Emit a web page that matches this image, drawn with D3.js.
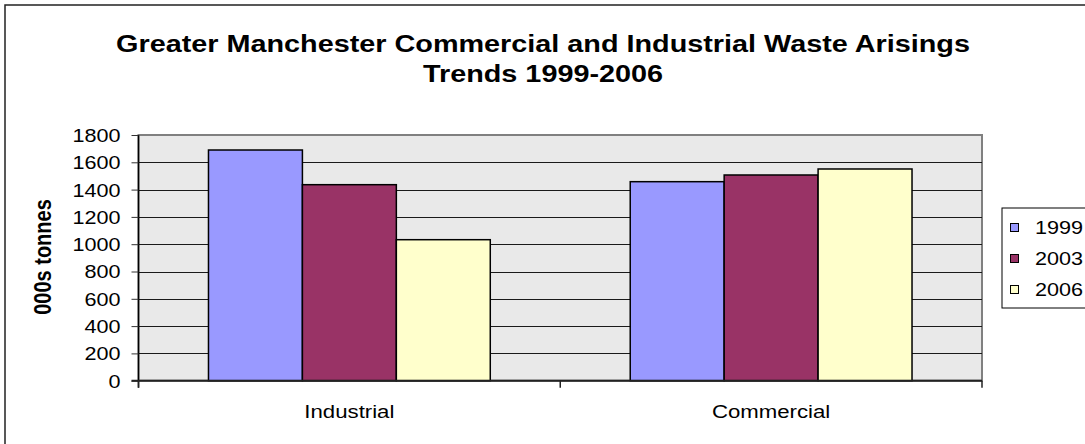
<!DOCTYPE html>
<html>
<head>
<meta charset="utf-8">
<script src="https://cdn.jsdelivr.net/npm/d3@7"></script>
<style>
  html, body { margin: 0; padding: 0; background: #fff; }
  svg { display: block; font-family: Arial, "Liberation Sans", sans-serif; }
</style>
</head>
<body>
<svg id="chart" width="1085" height="444"></svg>
<script>
const categories = ["Industrial", "Commercial"];
const seriesNames = ["1999", "2003", "2006"];
const values1999 = [1690, 1458];
const values2003 = [1436, 1507];
const values2006 = [1033, 1551];
const yTicks = [0, 200, 400, 600, 800, 1000, 1200, 1400, 1600, 1800];
const colors = ["#9999FF", "#993366", "#FFFFCC"];
const titleLines = ["Greater Manchester Commercial and Industrial Waste Arisings", "Trends 1999-2006"];
const yTitle = "000s tonnes";

const seriesValues = [values1999, values2003, values2006];
const data = categories.map((c, i) => ({
  cat: c,
  vals: seriesNames.map((s, j) => ({ key: s, value: seriesValues[j][i], color: colors[j] }))
}));

const SX = 1.2; // horizontal stretch of text as in reference
const svg = d3.select("#chart");

// outer chart border (clipped at right/bottom)
svg.append("rect").attr("x", 5).attr("y", 5).attr("width", 1200).attr("height", 600)
  .attr("fill", "#fff").attr("stroke", "#222").attr("stroke-width", 1.5);

const L = 138.5, R = 982, T = 135, B = 380.7;

const x0 = d3.scaleBand().domain(categories).range([L, R]).paddingInner(0).paddingOuter(0);
const x1 = d3.scaleBand().domain(seriesNames).range([0, x0.bandwidth()]).paddingInner(0).paddingOuter(0.745);
const y = d3.scaleLinear().domain([0, 1800]).range([B, T]);

// plot area
svg.append("rect").attr("x", L).attr("y", T).attr("width", R - L).attr("height", B - T)
  .attr("fill", "#E9E9E9").attr("stroke", "#808080").attr("stroke-width", 2);

// gridlines
svg.append("g").selectAll("line").data(yTicks.filter(d => d > 0 && d < 1800)).join("line")
  .attr("x1", L).attr("x2", R).attr("y1", d => Math.round(y(d)) + 0.5).attr("y2", d => Math.round(y(d)) + 0.5)
  .attr("stroke", "#1a1a1a").attr("stroke-width", 1);

// bars
const g = svg.append("g");
g.selectAll("g").data(data).join("g")
  .attr("transform", d => `translate(${x0(d.cat)},0)`)
  .selectAll("rect").data(d => d.vals).join("rect")
  .attr("x", d => x1(d.key))
  .attr("width", x1.bandwidth())
  .attr("y", d => y(d.value))
  .attr("height", d => y(0) - y(d.value))
  .attr("fill", d => d.color)
  .attr("stroke", "#000").attr("stroke-width", 1.5);

// y axis
const yAxis = svg.append("g").attr("transform", `translate(${L},0)`)
  .call(d3.axisLeft(y).tickValues(yTicks).tickFormat(d3.format("d")).tickSize(7).tickSizeOuter(0).tickPadding(0));
yAxis.select(".domain").attr("stroke", "#000").attr("stroke-width", 1.5).attr("d", `M0,${T}V${B + 7}`);
yAxis.selectAll(".tick line").attr("stroke", "#333");
yAxis.selectAll(".tick text")
  .attr("x", -18 / SX).attr("dy", "0.36em")
  .attr("transform", `scale(${SX},1)`)
  .attr("font-size", 18).attr("fill", "#000")
  .attr("font-family", "Arial, 'Liberation Sans', sans-serif");

// x axis
svg.append("line").attr("x1", L - 7).attr("x2", R).attr("y1", B).attr("y2", B)
  .attr("stroke", "#222").attr("stroke-width", 2);
const bounds = [L, ...categories.map(c => x0(c) + x0.bandwidth())];
svg.append("g").selectAll("line").data(bounds).join("line")
  .attr("x1", d => d).attr("x2", d => d).attr("y1", B).attr("y2", B + 7)
  .attr("stroke", "#222").attr("stroke-width", 1.5);
svg.append("g").selectAll("text").data(categories).join("text")
  .attr("transform", d => `translate(${x0(d) + x0.bandwidth() / 2},418) scale(${SX},1)`)
  .attr("text-anchor", "middle").attr("font-size", 18.5).attr("fill", "#000")
  .text(d => d);

// title
svg.append("g").selectAll("text").data(titleLines).join("text")
  .attr("transform", (d, i) => `translate(543,${52 + i * 30}) scale(1.2,1)`)
  .attr("text-anchor", "middle").attr("font-size", 24).attr("font-weight", "bold").attr("fill", "#000")
  .text(d => d);

// y title
svg.append("text")
  .attr("transform", `translate(51,257) rotate(-90) scale(1,${SX})`)
  .attr("text-anchor", "middle").attr("font-size", 20).attr("font-weight", "bold").attr("fill", "#000")
  .text(yTitle);

// legend
const lg = svg.append("g");
lg.append("rect").attr("x", 1002).attr("y", 208).attr("width", 120).attr("height", 100)
  .attr("fill", "#fff").attr("stroke", "#000").attr("stroke-width", 1);
const items = lg.selectAll("g.item").data(seriesNames).join("g").attr("class", "item")
  .attr("transform", (d, i) => `translate(1010,${227 + i * 31})`);
items.append("rect").attr("x", 0.5).attr("y", -3.5).attr("width", 8).attr("height", 8)
  .attr("fill", (d, i) => colors[i]).attr("stroke", "#000").attr("stroke-width", 1);
items.append("text").attr("transform", `translate(25,7) scale(${SX},1)`)
  .attr("font-size", 18).attr("fill", "#000").text(d => d);
</script>
</body>
</html>
